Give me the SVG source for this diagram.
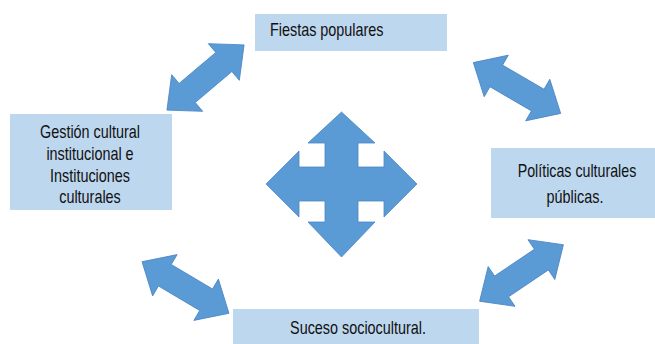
<svg xmlns="http://www.w3.org/2000/svg" xmlns:xlink="http://www.w3.org/1999/xlink" width="655" height="344" viewBox="0 0 655 344">
<style>
.box{fill:#BDD7EE;}
.arr{fill:#5B9BD5;stroke:#4A86C5;stroke-width:0.8;stroke-linejoin:miter;}
.t{font-family:"Liberation Sans",Arial,sans-serif;font-size:18px;fill:#111;}
.c{text-anchor:middle;}
</style>
<defs>
<path id="dbl" d="M -50.5,0 L -24,-24 L -24,-12.5 L 24,-12.5 L 24,-24 L 50.5,0 L 24,24 L 24,12.5 L -24,12.5 L -24,24 Z"/>
</defs>
<rect width="655" height="344" fill="#fff"/>
<g id="connectors">
<use xlink:href="#dbl" class="arr" transform="translate(205.5,77.5) rotate(-40.2)"/>
<use xlink:href="#dbl" class="arr" transform="translate(517,88) rotate(30.2)"/>
<use xlink:href="#dbl" class="arr" transform="translate(185.5,287.5) rotate(30.7)"/>
<use xlink:href="#dbl" class="arr" transform="translate(521.5,273) rotate(-34)"/>
</g>
<g id="center-cross">
<path class="arr" d="M 341.5,112 L 375,143 L 358,143 L 358,167 L 384,167 L 384,151 L 417,184 L 384,217 L 384,201 L 358,201 L 358,222 L 375,222 L 341.5,257 L 308,222 L 325,222 L 325,201 L 299,201 L 299,217 L 266,184 L 299,151 L 299,167 L 325,167 L 325,143 L 308,143 Z"/>
</g>
<g id="node-fiestas">
<rect class="box" x="255" y="14" width="192" height="37"/>
<text class="t" transform="translate(270,36) scale(0.8,1)">Fiestas populares</text>
</g>
<g id="node-gestion">
<rect class="box" x="10" y="114" width="162" height="96"/>
<text class="t c" transform="translate(90,137.5) scale(0.8,1)">Gestión cultural</text>
<text class="t c" transform="translate(90,159.5) scale(0.8,1)">institucional e</text>
<text class="t c" transform="translate(90,181.5) scale(0.8,1)">Instituciones</text>
<text class="t c" transform="translate(90,203) scale(0.8,1)">culturales</text>
</g>
<g id="node-politicas">
<rect class="box" x="491" y="148" width="164" height="70"/>
<text class="t c" transform="translate(577,177) scale(0.79,1)">Políticas culturales</text>
<text class="t c" transform="translate(575,203) scale(0.8,1)">públicas.</text>
</g>
<g id="node-suceso">
<rect class="box" x="233" y="309" width="246" height="35"/>
<text class="t c" transform="translate(358,334) scale(0.8,1)">Suceso sociocultural.</text>
</g>
</svg>
